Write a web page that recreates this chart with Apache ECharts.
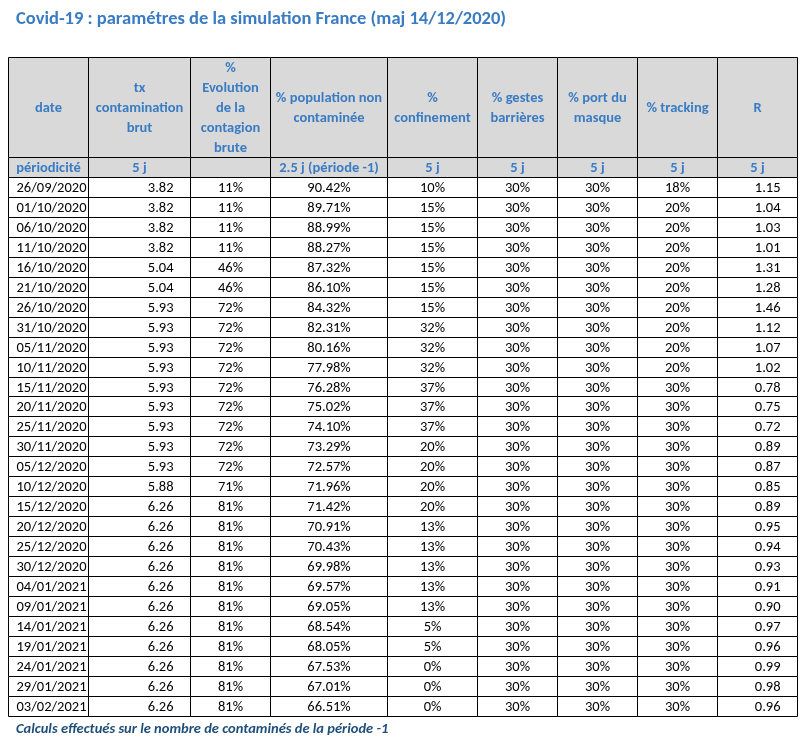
<!DOCTYPE html>
<html><head><meta charset="utf-8">
<script src="https://cdn.jsdelivr.net/npm/echarts@6/dist/echarts.min.js"></script>
<style>html,body{margin:0;padding:0;background:#fff}#c{width:807px;height:739px}</style>
</head><body><div id="c"></div>
<script>
const titleText = "Covid-19 : paramétres de la simulation France (maj 14/12/2020)";
const footerText = "Calculs effectués sur le nombre de contaminés de la période -1";
const headers = ["date", "tx\ncontamination\nbrut", "%\nEvolution\nde la\ncontagion\nbrute", "% population non\ncontaminée", "%\nconfinement", "% gestes\nbarrières", "% port du\nmasque", "% tracking", "R"];
const periodicity = ["périodicité", "5 j", "", "2.5 j (période -1)", "5 j", "5 j", "5 j", "5 j", "5 j"];
const dates = ["26/09/2020","01/10/2020","06/10/2020","11/10/2020","16/10/2020","21/10/2020","26/10/2020","31/10/2020","05/11/2020","10/11/2020","15/11/2020","20/11/2020","25/11/2020","30/11/2020","05/12/2020","10/12/2020","15/12/2020","20/12/2020","25/12/2020","30/12/2020","04/01/2021","09/01/2021","14/01/2021","19/01/2021","24/01/2021","29/01/2021","03/02/2021"];
const txContamination = [3.82,3.82,3.82,3.82,5.04,5.04,5.93,5.93,5.93,5.93,5.93,5.93,5.93,5.93,5.93,5.88,6.26,6.26,6.26,6.26,6.26,6.26,6.26,6.26,6.26,6.26,6.26];
const evolution = [11,11,11,11,46,46,72,72,72,72,72,72,72,72,72,71,81,81,81,81,81,81,81,81,81,81,81];
const populationNonContaminee = [90.42,89.71,88.99,88.27,87.32,86.10,84.32,82.31,80.16,77.98,76.28,75.02,74.10,73.29,72.57,71.96,71.42,70.91,70.43,69.98,69.57,69.05,68.54,68.05,67.53,67.01,66.51];
const confinement = [10,15,15,15,15,15,15,32,32,32,37,37,37,20,20,20,20,13,13,13,13,13,5,5,0,0,0];
const gestesBarrieres = [30,30,30,30,30,30,30,30,30,30,30,30,30,30,30,30,30,30,30,30,30,30,30,30,30,30,30];
const portMasque = [30,30,30,30,30,30,30,30,30,30,30,30,30,30,30,30,30,30,30,30,30,30,30,30,30,30,30];
const tracking = [18,20,20,20,20,20,20,20,20,20,30,30,30,30,30,30,30,30,30,30,30,30,30,30,30,30,30];
const rValues = [1.15,1.04,1.03,1.01,1.31,1.28,1.46,1.12,1.07,1.02,0.78,0.75,0.72,0.89,0.87,0.85,0.89,0.95,0.94,0.93,0.91,0.90,0.97,0.96,0.99,0.98,0.96];

// layout (not data)
const colEdges = [0, 80, 182, 262, 379, 469, 549, 629, 709, 789];
const colAlign = ["right","right","center","center","center","center","center","center","right"];
const colPad = [2, 17, 0, 0, 0, 0, 0, 0, 17];
const headerUnits = 5;
const FONT = "Carlito, Lato, 'Liberation Sans', sans-serif";

const pct0 = v => v + "%";
const columns = [
  dates,
  txContamination.map(v => v.toFixed(2)),
  evolution.map(pct0),
  populationNonContaminee.map(v => v.toFixed(2) + "%"),
  confinement.map(pct0),
  gestesBarrieres.map(pct0),
  portMasque.map(pct0),
  tracking.map(pct0),
  rValues.map(v => v.toFixed(2))
];

const cells = [];
const texts = [];
const kinds = [];
for (let c = 0; c < headers.length; c++) { cells.push([c, 0, headerUnits]); texts.push(headers[c]); kinds.push("head"); }
for (let c = 0; c < periodicity.length; c++) { cells.push([c, headerUnits, headerUnits + 1]); texts.push(periodicity[c]); kinds.push("period"); }
for (let r = 0; r < dates.length; r++) {
  for (let c = 0; c < columns.length; c++) {
    cells.push([c, headerUnits + 1 + r, headerUnits + 2 + r]); texts.push(columns[c][r]); kinds.push("data");
  }
}
const totalUnits = headerUnits + 1 + dates.length;

function renderItem(params, api) {
  const c = api.value(0), r0 = api.value(1), r1 = api.value(2);
  const p0 = api.coord([colEdges[c], r0]);
  const p1 = api.coord([colEdges[c + 1], r1]);
  const x0 = Math.round(p0[0]) + 0.5, x1 = Math.round(p1[0]) + 0.5;
  const y0 = Math.round(Math.min(p0[1], p1[1])) + 0.5, y1 = Math.round(Math.max(p0[1], p1[1])) + 0.5;
  const kind = kinds[params.dataIndex];
  const isHead = kind !== "data";
  let align = "center", tx = (x0 + x1) / 2;
  if (!isHead) {
    align = colAlign[c];
    if (align === "right") tx = x1 - colPad[c];
  }
  return {
    type: "group",
    children: [
      { type: "rect", shape: { x: x0, y: y0, width: x1 - x0, height: y1 - y0 },
        style: { fill: isHead ? "#d9d9d9" : "#ffffff", stroke: "#000000", lineWidth: 1 } },
      { type: "text",
        style: { text: texts[params.dataIndex], x: tx, y: (y0 + y1) / 2 + 1,
          align: align, verticalAlign: "middle", lineHeight: 20,
          fontFamily: FONT, fontSize: 14.5, fontWeight: isHead ? "bold" : "normal",
          fill: isHead ? "#3a7cc3" : "#000000" } }
    ]
  };
}

const chart = echarts.init(document.getElementById("c"), null, { renderer: "canvas" });
chart.setOption({
  animation: false,
  backgroundColor: "#ffffff",
  title: [
    { text: titleText, left: 11, top: 5, textStyle: { color: "#3a7cc3", fontFamily: FONT, fontSize: 18.5, fontWeight: "bold" } },
    { text: footerText, left: 11, top: 717, textStyle: { color: "#1f4e79", fontFamily: FONT, fontSize: 14.5, fontWeight: "bold", fontStyle: "italic" } }
  ],
  grid: { left: 8, top: 57, width: 789, height: 659 },
  xAxis: { type: "value", min: 0, max: colEdges[colEdges.length - 1], show: false },
  yAxis: { type: "value", min: 0, max: totalUnits, inverse: true, show: false },
  series: [{
    type: "custom",
    renderItem: renderItem,
    data: cells,
    encode: { x: 0, y: [1, 2] },
    clip: false
  }]
});
</script></body></html>
